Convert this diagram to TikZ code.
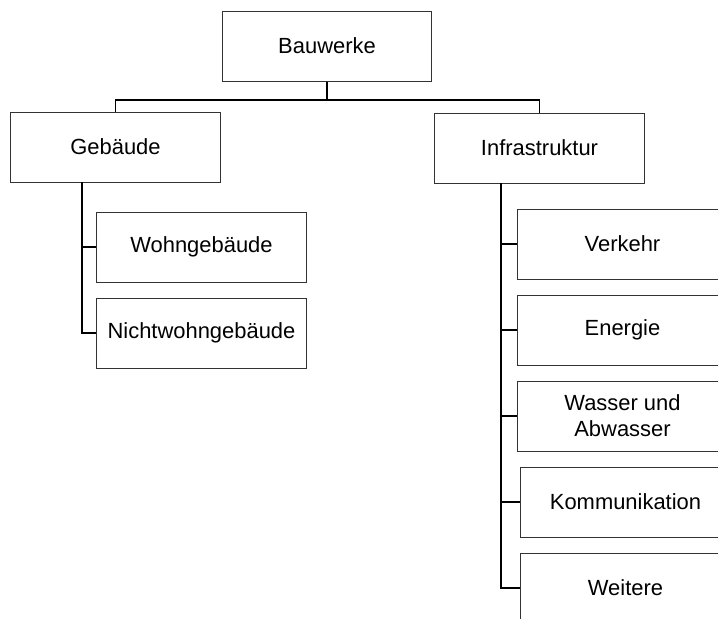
\documentclass[tikz,border=0pt]{standalone}
\usepackage{fontspec}
\setmainfont{Liberation Sans}
\usetikzlibrary{positioning}

\begin{document}
\begin{tikzpicture}[x=0.025cm,y=-0.025cm,
    box node/.style={rectangle,draw=black!80,line width=0.7pt,minimum width=5.225cm,minimum height=1.75cm,inner sep=0pt,align=center,font=\fontsize{15.6}{18.5}\selectfont},
    link/.style={draw=black,line width=1.4pt}]

   \useasboundingbox (0,0) rectangle (718,619);
   \clip (0,0) rectangle (718,619);

   \begin{scope}

    \node[box node] (bau) at (327,46) {Bauwerke};
    \node[box node] (geb) at (115.5,147) {Gebäude};
    \node[box node] (infra) at (539.5,148) {Infrastruktur};

    \node[box node] (wohn) at (201.5,247) {Wohngebäude};
    \node[box node] (nicht) at (201.5,333) {Nichtwohngebäude};

    \node[box node] (verk) at (622.5,244) {Verkehr};
    \node[box node] (ener) at (622.5,330) {Energie};
    \node[box node] (wass) at (622.5,416) {Wasser und\\Abwasser};
    \node[box node] (komm) at (625.5,502) {Kommunikation};
    \node[box node] (weit) at (625.5,588) {Weitere};

    \coordinate (bus) at (327,100);
    \coordinate (gstem) at (82,182);
    \coordinate (istem) at (501,183);

    \path[link] (bau.south) -- (bus);
    \path[link] (geb.north) |- (bus) -| (infra.north);

    \path[link] (gstem) |- (wohn.west);
    \path[link] (gstem) |- (nicht.west);

    \path[link] (istem) |- (verk.west);
    \path[link] (istem) |- (ener.west);
    \path[link] (istem) |- (wass.west);
    \path[link] (istem) |- (komm.west);
    \path[link] (istem) |- (weit.west);

   \end{scope}
  \end{tikzpicture}
\end{document}
